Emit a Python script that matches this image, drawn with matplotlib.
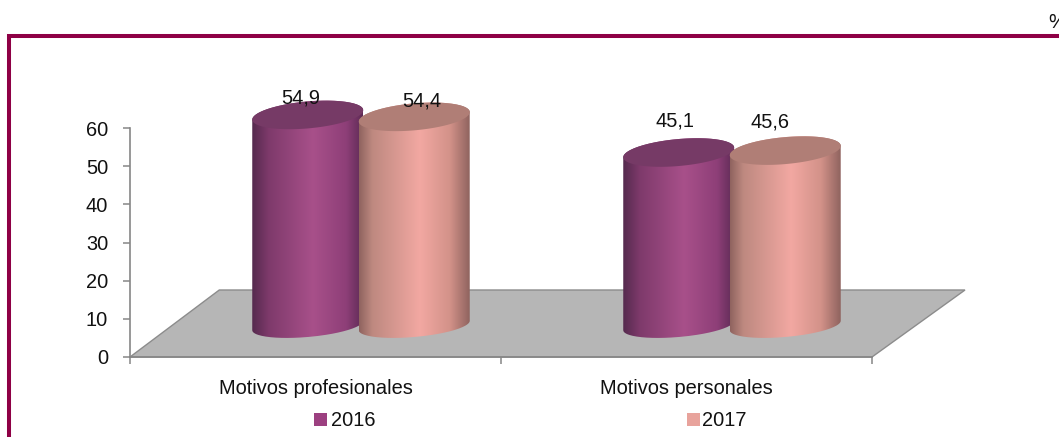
import numpy as np
import matplotlib
matplotlib.use("Agg")
import matplotlib.pyplot as plt
from matplotlib.colors import LinearSegmentedColormap
from matplotlib.lines import Line2D
from matplotlib.patches import Polygon, Rectangle
from matplotlib.path import Path

categories = ["Motivos profesionales", "Motivos personales"]
series_names = ["2016", "2017"]
values_2016 = [54.9, 45.1]
values_2017 = [54.4, 45.6]
value_labels_2016 = ["54,9", "45,1"]
value_labels_2017 = ["54,4", "45,6"]
y_ticks = [0, 10, 20, 30, 40, 50, 60]

W, H = 1059, 437
plt.rcParams["font.family"] = ["Liberation Sans", "DejaVu Sans"]
FS = 14.4
INK = "#111111"

fig = plt.figure(figsize=(W / 100, H / 100), dpi=100, facecolor="white")
ax = fig.add_axes([130 / W, (H - 357) / H, 742 / W, 229 / H])
ax.patch.set_visible(False)
PX_X, PX_Y = 371.0, 229 / 60.0  # pixels per data unit


def dx(p):
    return p / PX_X


def dy(p):
    return p / PX_Y


# floor
floor_dx, floor_dy = dx(93), dy(67)
ax.add_patch(Polygon([(0, 0), (2, 0), (2 + floor_dx, floor_dy), (floor_dx * 0.96, floor_dy)],
                     closed=True, fc="#B6B6B6", ec="#8C8C8C", lw=1.0, clip_on=False, zorder=1))

purple = LinearSegmentedColormap.from_list("p", [(0, "#552A4E"), (.15, "#7E3A6B"), (.55, "#A8508A"),
                                                 (.85, "#8E3F78"), (1, "#5E2B55")])
pink = LinearSegmentedColormap.from_list("k", [(0, "#8F635F"), (.12, "#BE8980"), (.55, "#F2A8A2"),
                                               (.82, "#D39289"), (1, "#8F635F")])
TOPS = {"2016": "#763A66", "2017": "#B07E76"}
SOLID = {"2016": "#9C4080", "2017": "#E8A39C"}
A, B_TOP, B_BASE, SHEAR = 55.5, 13.5, 11.5, 0.085
BASE_PX = 31.5       # base centre above the axis line, px
HEIGHT_GAIN = 1.005
GROUP_SHIFT = 45.5   # 3D shift of the groups, px
BAR_STEP = 106.5     # px between neighbouring cylinders


def ell(cx, cy, b, t):
    return np.column_stack([cx + dx(A) * np.cos(t),
                            cy + dy(SHEAR * A * np.cos(t) + b * np.sin(t))])


def cylinder(cx, value, cmap, top, z):
    y0 = dy(BASE_PX)
    y1 = y0 + value * HEIGHT_GAIN
    bottom = ell(cx, y0, B_BASE, np.linspace(np.pi, 2 * np.pi, 80))
    upper = ell(cx, y1, B_TOP, np.linspace(0, np.pi, 80))
    verts = np.vstack([bottom, upper, bottom[:1]])
    grad = np.linspace(0, 1, 256).reshape(1, -1)
    im = ax.imshow(grad, cmap=cmap, aspect="auto", interpolation="bilinear", zorder=z,
                   extent=[cx - dx(A), cx + dx(A), y0 - dy(25), y1 + dy(25)])
    im.set_clip_box(fig.bbox)
    im.set_clip_path(Path(verts), ax.transData)
    lid = ell(cx, y1, B_TOP, np.linspace(0, 2 * np.pi, 160))
    ax.add_patch(Polygon(lid, closed=True, fc=top, ec="none", zorder=z + 0.1, clip_on=False))
    return y1


label_offsets = {"2016": [(-7.5, 17), (-3.5, 32)], "2017": [(8, 16), (-15, 29)]}
series = [("2016", values_2016, value_labels_2016, purple, -0.5),
          ("2017", values_2017, value_labels_2017, pink, 0.5)]
for i in range(len(categories)):
    for s, (name, vals, labs, cmap, off) in enumerate(series):
        cx = i + 0.5 + dx(GROUP_SHIFT + off * BAR_STEP)
        y1 = cylinder(cx, vals[i], cmap, TOPS[name], 2 + i * 2 + s * 0.5)
        ox, oy = label_offsets[name][i]
        ax.text(cx + dx(ox), y1 + dy(oy), labs[i], ha="center", va="center", fontsize=FS,
                color=INK, zorder=20, clip_on=False)

ax.set_xlim(0, 2)
ax.set_ylim(0, 60)
for side in ("top", "right"):
    ax.spines[side].set_visible(False)
for side in ("left", "bottom"):
    ax.spines[side].set_color("#868686")
    ax.spines[side].set_linewidth(1.2)
    ax.spines[side].set_zorder(1.5)
ax.set_yticks(y_ticks)
ax.tick_params(axis="y", length=5, width=1.1, color="#868686", labelsize=FS, labelcolor=INK, pad=10.8)
ax.set_xticks([0, 1, 2])
ax.set_xticks([0.5, 1.5], minor=True)
ax.set_xticklabels([])
ax.set_xticklabels(categories, minor=True, fontsize=FS, color=INK)
ax.tick_params(axis="x", which="major", length=5, width=1.1, color="#868686")
ax.tick_params(axis="x", which="minor", length=0, pad=15.5)

# frame and unit mark
frame = "#8E0045"
fig.add_artist(Line2D([9 / W, 9 / W, 1], [0, (H - 36) / H, (H - 36) / H], color=frame, lw=2.9,
                      solid_joinstyle="miter", solid_capstyle="butt"))
fig.text(1048 / W, (H - 23) / H, "%", ha="left", va="center", fontsize=FS, color=INK, clip_on=False)

# legend
for name, xs, xt in zip(series_names, (314, 687), (331, 702)):
    fig.add_artist(Rectangle((xs / W, (H - 426) / H), 13 / W, 13 / H, transform=fig.transFigure,
                             fc=SOLID[name], ec="none"))
    fig.text(xt / W, (H - 420) / H, name, ha="left", va="center", fontsize=FS, color=INK)

fig.savefig("out.png", dpi=100, facecolor="white")
